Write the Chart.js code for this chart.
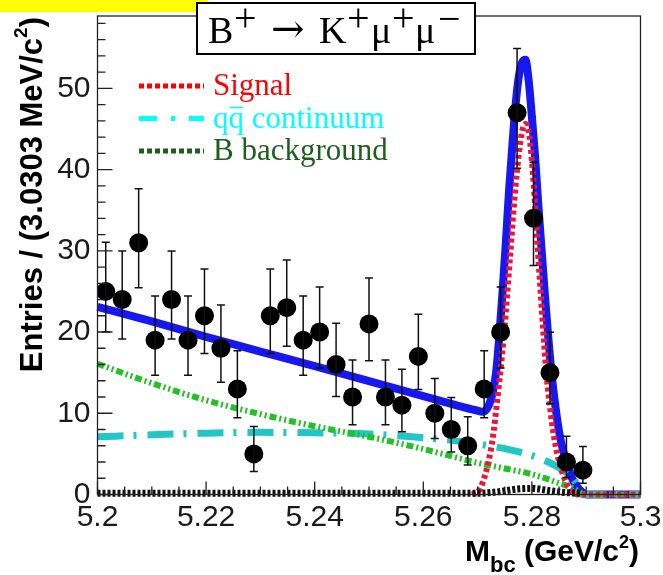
<!DOCTYPE html>
<html>
<head>
<meta charset="utf-8">
<script src="https://cdn.jsdelivr.net/npm/chart.js@4.4.1/dist/chart.umd.min.js"></script>
<style>
  html, body { margin: 0; padding: 0; background: #fff; }
  #c { display: block; }
</style>
</head>
<body>
<canvas id="c" width="663" height="575"></canvas>
<script>
// Mbc distribution, 33 bins of 3.0303 MeV between 5.2 and 5.3 GeV (last 3 bins empty)
const binCenters = [
  5.20152, 5.20455, 5.20758, 5.21061, 5.21364, 5.21667, 5.21970, 5.22273, 5.22576, 5.22879,
  5.23182, 5.23485, 5.23788, 5.24091, 5.24394, 5.24697, 5.25000, 5.25303, 5.25606, 5.25909,
  5.26212, 5.26515, 5.26818, 5.27121, 5.27424, 5.27727, 5.28030, 5.28333, 5.28636, 5.28939
];
const counts = [25, 24, 31, 19, 24, 19, 22, 18, 13, 5, 22, 23, 19, 20, 16, 12, 21, 12, 11, 17,
  10, 8, 6, 13, 20, 47, 34, 15, 4, 3];
const errLo = [4.97, 4.86, 5.54, 4.31, 4.86, 4.31, 4.65, 4.19, 3.56, 2.16, 4.65, 4.76, 4.31, 4.43,
  3.95, 3.42, 4.54, 3.42, 3.27, 4.07, 3.11, 2.77, 2.38, 3.56, 4.43, 6.83, 5.80, 3.83, 1.91, 1.63];
const errHi = [6.06, 5.97, 6.63, 5.44, 5.97, 5.44, 5.76, 5.32, 4.70, 3.38, 5.76, 5.87, 5.44, 5.55,
  5.08, 4.56, 5.66, 4.56, 4.42, 5.20, 4.27, 3.94, 3.58, 4.70, 5.55, 7.90, 6.90, 4.96, 3.16, 2.92];

// fit: total
const totalX = [5.200, 5.210, 5.220, 5.230, 5.240, 5.250, 5.260, 5.266, 5.2695, 5.2710, 5.2720,
  5.2728, 5.2734, 5.2740, 5.2746, 5.2752, 5.2758, 5.2764, 5.2770, 5.2776, 5.2782, 5.2788, 5.2794,
  5.2800, 5.2806, 5.2812, 5.2818, 5.2824, 5.2830, 5.2836, 5.2844, 5.2852, 5.2860, 5.2868, 5.2876,
  5.2884, 5.2891, 5.2900, 5.3000];
const totalY = [23.1, 21.3, 19.4, 17.6, 15.8, 13.95, 12.1, 11.0, 10.4, 10.2, 10.9,
  12.6, 15.0, 19.5, 25.0, 31.0, 37.5, 43.0, 48.0, 51.5, 53.2, 53.5, 51.0,
  46.5, 41.5, 35.5, 30.0, 24.5, 19.5, 15.0, 10.5, 7.0, 4.8, 3.0, 1.7,
  0.9, 0.4, 0.0, 0.0];

// signal
const signalX = [5.2690, 5.2700, 5.2706, 5.2712, 5.2720, 5.2728, 5.2736, 5.2744, 5.2752, 5.2760,
  5.2768, 5.2776, 5.2783, 5.2788, 5.2795, 5.2802, 5.2808, 5.2814, 5.2820, 5.2826, 5.2832, 5.2841,
  5.2851, 5.2863, 5.2872, 5.2880, 5.2890, 5.3000];
const signalY = [0.0, 0.3, 0.9, 2.0, 4.0, 7.0, 11.5, 16.5, 22.5, 29.5,
  36.5, 42.0, 45.0, 45.6, 44.3, 39.4, 33.3, 27.0, 21.0, 15.5, 11.5, 7.0,
  3.8, 1.5, 0.5, 0.1, 0.0, 0.0];

// qq continuum
const contX = [5.200, 5.210, 5.220, 5.230, 5.240, 5.250, 5.258, 5.266, 5.272, 5.276, 5.280,
  5.283, 5.285, 5.2865, 5.2875, 5.2883, 5.2889, 5.2892, 5.300];
const contY = [7.1, 7.35, 7.55, 7.65, 7.6, 7.45, 7.1, 6.6, 6.0, 5.5, 4.8,
  4.0, 3.3, 2.6, 2.0, 1.2, 0.4, 0.0, 0.0];

// generic B background
const bbkgX = [5.200, 5.210, 5.220, 5.230, 5.240, 5.250, 5.260, 5.270, 5.275, 5.280, 5.285,
  5.2875, 5.2888, 5.2895, 5.300];
const bbkgY = [16.1, 13.7, 11.6, 9.9, 8.4, 7.1, 5.6, 3.9, 3.2, 2.5, 1.4,
  0.8, 0.3, 0.0, 0.0];

// peaking background
const peakX = [5.200, 5.270, 5.274, 5.277, 5.280, 5.283, 5.286, 5.289];
const peakY = [0.15, 0.15, 0.35, 0.65, 0.75, 0.5, 0.25, 0.15];

const xMajor = [5.2, 5.22, 5.24, 5.26, 5.28, 5.3];
const xTickLabels = ['5.2', '5.22', '5.24', '5.26', '5.28', '5.3'];
const yMajor = [0, 10, 20, 30, 40, 50];

const legendItems = [
  { text: 'Signal', color: '#ff0000', line: '#ff0000', dash: [5, 3] },
  { text: 'qq continuum', color: '#00ffff', line: '#00ffff', dash: [18, 14, 4, 14] },
  { text: 'B background', color: '#1d5e1d', line: '#1d5e1d', dash: [5, 3] }
];

const SANS = '"Liberation Sans", Arial, Helvetica, sans-serif';
const SERIF = '"Liberation Serif", "Times New Roman", serif';

const pts = (xs, ys) => xs.map((x, i) => ({ x, y: ys[i] }));

function curve(label, xs, ys, color, width, dash, order) {
  return {
    type: 'line',
    label,
    data: pts(xs, ys),
    borderColor: color,
    borderWidth: width,
    borderDash: dash,
    borderCapStyle: 'butt',
    borderJoinStyle: 'round',
    pointRadius: 0,
    fill: false,
    clip: 6,
    cubicInterpolationMode: 'monotone',
    order
  };
}

function drawText(ctx, parts, x, y) {
  // parts: [text, font, dy]
  let cx = x;
  for (const [t, font, dy] of parts) {
    ctx.font = font;
    ctx.fillText(t, cx, y + dy);
    cx += ctx.measureText(t).width;
  }
  return cx;
}

function textWidth(ctx, parts) {
  let w = 0;
  for (const [t, font] of parts) {
    ctx.font = font;
    w += ctx.measureText(t).width;
  }
  return w;
}

const decorations = {
  id: 'decorations',
  afterDatasetsDraw(chart) {
    const { ctx, chartArea: a, scales: { x, y } } = chart;
    ctx.save();

    // error bars
    ctx.strokeStyle = '#111';
    ctx.lineWidth = 1.5;
    binCenters.forEach((c, i) => {
      const px = x.getPixelForValue(c);
      const top = y.getPixelForValue(counts[i] + errHi[i]);
      const bot = y.getPixelForValue(counts[i] - errLo[i]);
      ctx.beginPath();
      ctx.moveTo(px, top); ctx.lineTo(px, bot);
      ctx.moveTo(px - 4, top); ctx.lineTo(px + 4, top);
      ctx.moveTo(px - 4, bot); ctx.lineTo(px + 4, bot);
      ctx.stroke();
    });

    // frame
    ctx.strokeStyle = '#222';
    ctx.lineWidth = 1.3;
    ctx.strokeRect(a.left, a.top, a.right - a.left, a.bottom - a.top);

    // inward ticks, 5 minor divisions on y, 4 on x
    ctx.beginPath();
    for (let k = 0; k * 2 <= y.max; k++) {
      const py = y.getPixelForValue(k * 2);
      ctx.moveTo(a.left, py);
      ctx.lineTo(a.left + (k % 5 === 0 ? 15 : 8), py);
    }
    for (let k = 0; k <= 20; k++) {
      const px = x.getPixelForValue(5.2 + k * 0.005);
      ctx.moveTo(px, a.bottom);
      ctx.lineTo(px, a.bottom - (k % 4 === 0 ? 13 : 8));
    }
    ctx.stroke();
    ctx.restore();
  },
  afterDraw(chart) {
    const { ctx } = chart;
    ctx.save();
    ctx.textBaseline = 'alphabetic';
    ctx.textAlign = 'left';

    // banner strip
    ctx.fillStyle = '#ffff00';
    ctx.fillRect(0, 0, 208, 12);

    // decay title box
    ctx.fillStyle = '#fff';
    ctx.fillRect(197, 3, 278, 51);
    ctx.strokeStyle = '#000';
    ctx.lineWidth = 2;
    ctx.strokeRect(197, 3, 278, 51);
    ctx.fillStyle = '#000';
    const f = `38px ${SERIF}`;
    const fs = `40px ${SERIF}`;
    const title = [['B', 208, 43, f], ['+', 234, 31, fs], ['\u2192', 271, 42, '40px "DejaVu Serif", serif'],
      ['K', 319, 43, f], ['+', 347, 31, fs], ['\u03bc', 371, 43, f], ['+', 392, 31, fs],
      ['\u03bc', 415, 43, f], ['\u2212', 438, 32, fs]];
    for (const [t, tx, ty, font] of title) {
      ctx.font = font;
      ctx.fillText(t, tx, ty);
    }

    // legend
    legendItems.forEach((it, i) => {
      const base = 95 + i * 32.5;
      const ly = base - 9;
      ctx.save();
      ctx.strokeStyle = it.line;
      ctx.lineWidth = 5;
      ctx.setLineDash(it.dash);
      ctx.beginPath();
      ctx.moveTo(139, ly);
      ctx.lineTo(204, ly);
      ctx.stroke();
      ctx.restore();
      ctx.fillStyle = it.color;
      ctx.font = `31px ${SERIF}`;
      ctx.fillText(it.text, 213, base);
      if (i === 1) {
        // bar over the second q
        const q = ctx.measureText('q').width;
        ctx.strokeStyle = it.color;
        ctx.lineWidth = 1.6;
        ctx.beginPath();
        ctx.moveTo(213 + q + 1, base - 20);
        ctx.lineTo(213 + 2 * q - 1, base - 20);
        ctx.stroke();
      }
    });

    // y axis title, end aligned at the top
    ctx.fillStyle = '#000';
    const yParts = [['Entries / (3.0303 MeV/c', `bold 31px ${SANS}`, 0],
      ['2', `bold 19px ${SANS}`, -15], [')', `bold 31px ${SANS}`, 0]];
    const yw = textWidth(ctx, yParts);
    ctx.save();
    ctx.translate(42, 0);
    ctx.rotate(-Math.PI / 2);
    drawText(ctx, yParts, -(17 + yw), 0);
    ctx.restore();

    // x axis title, right aligned
    const xParts = [['M', `bold 30px ${SANS}`, 0], ['bc', `bold 22px ${SANS}`, 11],
      [' (GeV/c', `bold 30px ${SANS}`, 0], ['2', `bold 18px ${SANS}`, -13], [')', `bold 30px ${SANS}`, 0]];
    const xw = textWidth(ctx, xParts);
    drawText(ctx, xParts, 639 - xw, 561);

    ctx.restore();
  }
};

const tickFont = { family: SANS, size: 30 };

new Chart(document.getElementById('c'), {
  type: 'line',
  data: {
    datasets: [
      {
        type: 'line',
        label: 'Data',
        data: pts(binCenters, counts),
        showLine: false,
        pointRadius: 9.5,
        pointBackgroundColor: '#000',
        pointBorderWidth: 0,
        order: 0
      },
      curve('peaking', peakX, peakY, '#111', 7, [3, 2], 1),
      curve('Signal', signalX, signalY, '#ea173b', 6, [4, 3], 2),
      curve('B background', bbkgX, bbkgY, '#25c025', 6, [7, 3, 2, 3, 2, 3], 3),
      curve('qq continuum', contX, contY, '#22c6c6', 7, [26, 10, 3, 11], 4),
      curve('Total', totalX, totalY, '#1717f0', 8, [], 5)
    ]
  },
  options: {
    responsive: false,
    animation: false,
    devicePixelRatio: 1,
    layout: { padding: { top: 16, right: 22.5, left: 0, bottom: 0 } },
    plugins: { legend: { display: false }, tooltip: { enabled: false } },
    scales: {
      x: {
        type: 'linear',
        min: 5.2,
        max: 5.3,
        grid: { display: false, drawTicks: false },
        border: { display: false },
        afterBuildTicks: (s) => { s.ticks = xMajor.map((v) => ({ value: v })); },
        afterFit: (s) => { s.height = 80.5; s.paddingLeft = 0; s.paddingRight = 0; },
        ticks: {
          padding: 5,
          color: '#1a1a1a',
          font: tickFont,
          maxRotation: 0,
          autoSkip: false,
          callback: (v, i) => xTickLabels[i]
        }
      },
      y: {
        min: 0,
        max: 58.9,
        grid: { display: false, drawTicks: false },
        border: { display: false },
        afterBuildTicks: (s) => { s.ticks = yMajor.map((v) => ({ value: v })); },
        afterFit: (s) => { s.width = 97.5; s.paddingTop = 0; s.paddingBottom = 0; },
        ticks: {
          padding: 7,
          color: '#1a1a1a',
          font: tickFont,
          callback: (v) => String(v)
        }
      }
    }
  },
  plugins: [decorations]
});
</script>
</body>
</html>
